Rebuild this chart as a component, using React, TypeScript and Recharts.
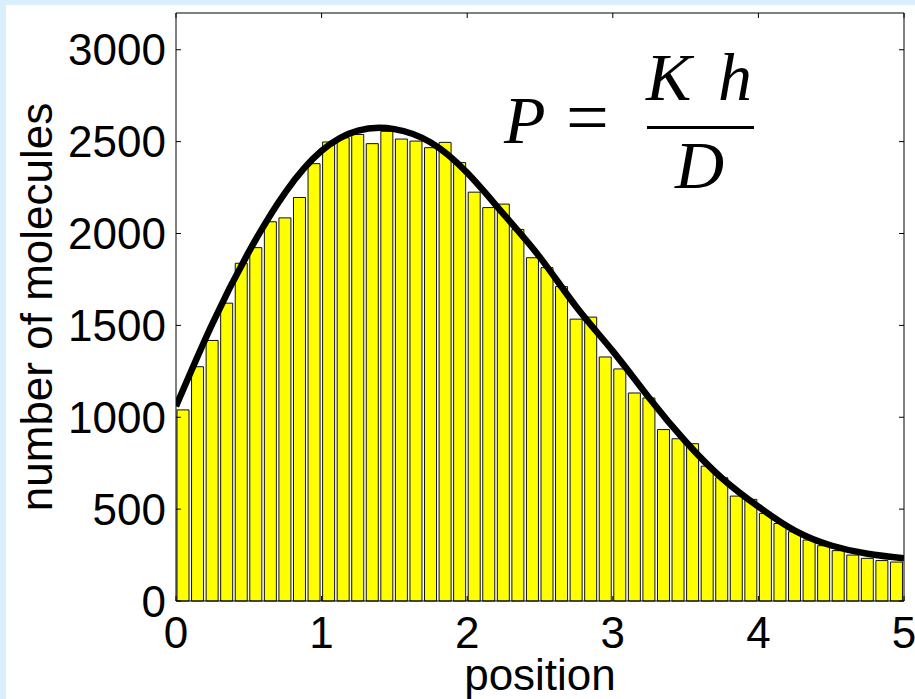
import { Bar, ComposedChart, Label, Line, ReferenceLine, XAxis, YAxis } from "recharts";

// histogram counts, 50 bins of width 0.1 from 0 to 5
const binCounts = [
    1040, 1275, 1418, 1621, 1838, 1923, 2064, 2085, 2196, 2380,
    2498, 2521, 2539, 2489, 2556, 2514, 2503, 2467, 2496, 2386,
    2225, 2141, 2160, 2022, 1868, 1814, 1711, 1534, 1545, 1328,
    1263, 1132, 1105, 933, 883, 856, 734, 671, 571, 553,
    477, 422, 377, 332, 301, 274, 250, 232, 220, 212,
];

// fitted profile
const fitX = [0, 0.25, 0.5, 0.75, 1, 1.25, 1.5, 1.75, 2, 2.25, 2.5, 2.75, 3, 3.25, 3.5, 3.75, 4, 4.25, 4.5, 4.75, 5];
const fitY = [1060, 1510, 1900, 2223, 2450, 2560, 2568, 2495, 2330, 2105, 1870, 1600, 1360, 1105, 868, 668, 513, 383, 302, 257, 232];

const xTicks = [0, 1, 2, 3, 4, 5];
const yTicks = [0, 500, 1000, 1500, 2000, 2500, 3000];

const W = 915;
const H = 699;
const margin = { top: 13, right: 11, bottom: 40, left: 0 };
const yAxisWidth = 176;
const xAxisHeight = 58;
const plotLeft = margin.left + yAxisWidth;
const plotRight = W - margin.right;
const plotTop = margin.top;
const plotBottom = H - margin.bottom - xAxisHeight;
const tickLen = 5;

const sans = "'Liberation Sans', Arial, Helvetica, sans-serif";
const serif = "'Liberation Serif', 'Times New Roman', serif";

const binData = binCounts.map((count, i) => ({ bin: (i * 0.1 + 0.05).toFixed(2), count }));
const fitData = fitX.map((x, i) => ({ x, y: fitY[i] }));

const frame = { stroke: "#000", strokeWidth: 1 };

// matlab style: labels outside, tick marks pointing in on both sides of the box
const XTick = (props: any) => {
    const { x, y, payload } = props;
    return (
        <g>
            <line x1={x} x2={x} y1={plotBottom} y2={plotBottom - tickLen} stroke="#000" />
            <line x1={x} x2={x} y1={plotTop} y2={plotTop + tickLen} stroke="#000" />
            <text x={x} y={y} dy="0.71em" textAnchor="middle" fill="#000" fontSize={44} fontFamily={sans}>
                {payload.value}
            </text>
        </g>
    );
};

const YTick = (props: any) => {
    const { x, y, payload } = props;
    return (
        <g>
            <line x1={plotLeft} x2={plotLeft + tickLen} y1={y} y2={y} stroke="#000" />
            <line x1={plotRight} x2={plotRight - tickLen} y1={y} y2={y} stroke="#000" />
            <text x={x} y={y} dy="0.355em" textAnchor="end" fill="#000" fontSize={44} fontFamily={sans}>
                {payload.value}
            </text>
        </g>
    );
};

const YLabel = (props: any) => {
    const { x, y, height } = props.viewBox;
    const cx = x + 52;
    const cy = y + height / 2;
    return (
        <text x={cx} y={cy} transform={`rotate(-90 ${cx} ${cy})`} textAnchor="middle"
              fill="#000" fontSize={44} fontFamily={sans}>
            number of molecules
        </text>
    );
};

const Formula = () => (
    <svg width={W} height={H} style={{ position: "absolute", left: 0, top: 0, pointerEvents: "none" }}>
        <g fill="#000" fontFamily={serif} fontSize={68}>
            <text x={504} y={143} fontStyle="italic">P</text>
            <text x={566} y={143} fontSize={76}>=</text>
            <text x={646} y={100} fontStyle="italic">K</text>
            <text x={718} y={100} fontStyle="italic">h</text>
            <text x={675} y={188} fontStyle="italic">D</text>
        </g>
        <line x1={647} x2={754} y1={127.5} y2={127.5} stroke="#000" strokeWidth={3} />
    </svg>
);

export default function App() {
    return (
        <div style={{ position: "fixed", left: 0, top: 0, width: W, height: H, background: "#d9effb" }}>
            <div style={{ position: "absolute", left: 6, top: 5, right: 0, bottom: 0, background: "#fff" }} />
            <div style={{ position: "absolute", left: 0, top: 0 }}>
                <ComposedChart width={W} height={H} data={binData} margin={margin}>
                    <XAxis xAxisId="pos" dataKey="x" type="number" domain={[0, 5]} ticks={xTicks}
                           allowDataOverflow interval={0} height={xAxisHeight} tickLine={false} tickSize={0}
                           tickMargin={16} axisLine={frame} tick={<XTick />}>
                        <Label value="position" position="bottom" offset={0} fill="#000"
                               fontSize={44} fontFamily={sans} />
                    </XAxis>
                    <XAxis xAxisId="bins" dataKey="bin" type="category" hide height={0}
                           padding={{ left: 0, right: 0 }} />
                    <YAxis yAxisId="count" type="number" domain={[0, 3200]} ticks={yTicks} interval={0}
                           width={yAxisWidth} tickLine={false} tickSize={0} tickMargin={10}
                           axisLine={frame} tick={<YTick />}>
                        <Label content={YLabel} />
                    </YAxis>
                    <Bar xAxisId="bins" yAxisId="count" dataKey="count" barSize={12} fill="#ffff00"
                         stroke="#111" strokeWidth={1} isAnimationActive={false} />
                    <Line xAxisId="pos" yAxisId="count" data={fitData} dataKey="y" type="natural"
                          stroke="#000" strokeWidth={6.5} dot={false} activeDot={false}
                          isAnimationActive={false} />
                    <ReferenceLine xAxisId="pos" yAxisId="count" y={3200} stroke="#000" strokeWidth={1} />
                    <ReferenceLine xAxisId="pos" yAxisId="count" x={5} stroke="#000" strokeWidth={1} />
                </ComposedChart>
            </div>
            <Formula />
        </div>
    );
}
